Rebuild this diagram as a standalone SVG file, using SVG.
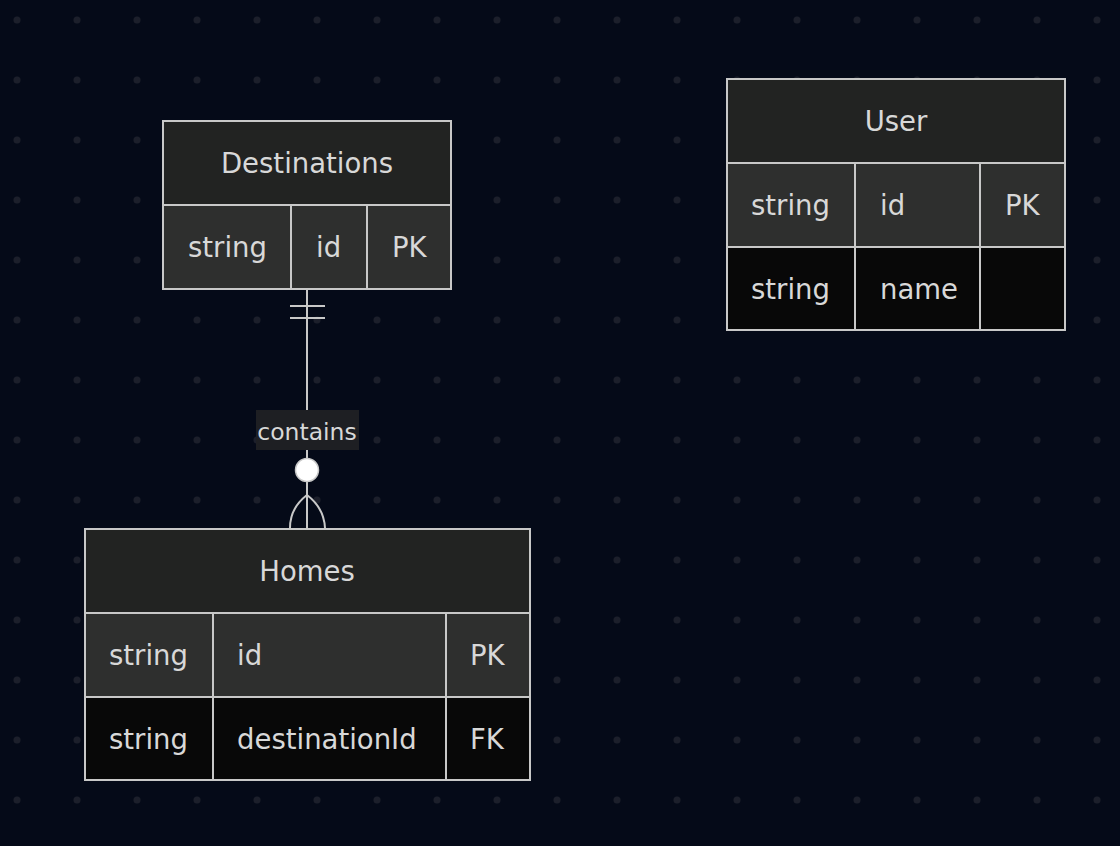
<svg xmlns="http://www.w3.org/2000/svg" width="1120" height="846" viewBox="0 0 1120 846">
<defs>
<pattern id="dots" x="0" y="0" width="60" height="60" patternUnits="userSpaceOnUse">
<circle cx="17" cy="20" r="3.5" fill="#1c1f2b"/>
</pattern>
</defs>
<style>
.hdr{fill:#222322;stroke:#c8c8c8;stroke-width:2}
.odd{fill:#2e2f2e;stroke:#c8c8c8;stroke-width:2}
.even{fill:#080808;stroke:#c8c8c8;stroke-width:2}
text{font-family:"DejaVu Sans","Liberation Sans",sans-serif;font-size:27.5px;fill:#d8d8d8}
.c{text-anchor:middle}
.edge{fill:none;stroke:#c8c8c8;stroke-width:2}
.lbl{font-size:23.5px}
</style>
<rect width="1120" height="846" fill="#050a18"/>
<rect width="1120" height="846" fill="url(#dots)"/>

<g id="connectors">
<line class="edge" x1="307" y1="289" x2="307" y2="529"/>
<line class="edge" x1="290" y1="306" x2="325" y2="306"/>
<line class="edge" x1="290" y1="318" x2="325" y2="318"/>
<rect x="256" y="410" width="103" height="40" fill="#1e1f23"/>
<text class="c lbl" x="307" y="440">contains</text>
<circle cx="307" cy="470" r="11.5" fill="#ffffff" stroke="#c8c8c8" stroke-width="1.5"/>
<path class="edge" d="M290,528 Q290,508 307,495 Q324,508 325,528"/>
</g>

<g id="Destinations">
<rect class="hdr" x="163" y="121" width="288" height="84"/>
<text class="c" x="307" y="173">Destinations</text>
<rect class="odd" x="163" y="205" width="128" height="84"/>
<rect class="odd" x="291" y="205" width="76" height="84"/>
<rect class="odd" x="367" y="205" width="84" height="84"/>
<text x="188" y="257">string</text>
<text x="316" y="257">id</text>
<text x="392" y="257">PK</text>
</g>

<g id="User">
<rect class="hdr" x="727" y="79" width="338" height="84"/>
<text class="c" x="896" y="131">User</text>
<rect class="odd" x="727" y="163" width="128" height="84"/>
<rect class="odd" x="855" y="163" width="125" height="84"/>
<rect class="odd" x="980" y="163" width="85" height="84"/>
<text x="751" y="215">string</text>
<text x="880" y="215">id</text>
<text x="1005" y="215">PK</text>
<rect class="even" x="727" y="247" width="128" height="83"/>
<rect class="even" x="855" y="247" width="125" height="83"/>
<rect class="even" x="980" y="247" width="85" height="83"/>
<text x="751" y="299">string</text>
<text x="880" y="299">name</text>
</g>

<g id="Homes">
<rect class="hdr" x="85" y="529" width="445" height="84"/>
<text class="c" x="307" y="581">Homes</text>
<rect class="odd" x="85" y="613" width="128" height="84"/>
<rect class="odd" x="213" y="613" width="233" height="84"/>
<rect class="odd" x="446" y="613" width="84" height="84"/>
<text x="109" y="665">string</text>
<text x="237" y="665">id</text>
<text x="470" y="665">PK</text>
<rect class="even" x="85" y="697" width="128" height="83"/>
<rect class="even" x="213" y="697" width="233" height="83"/>
<rect class="even" x="446" y="697" width="84" height="83"/>
<text x="109" y="749">string</text>
<text x="237" y="749">destinationId</text>
<text x="470" y="749">FK</text>
</g>
</svg>
